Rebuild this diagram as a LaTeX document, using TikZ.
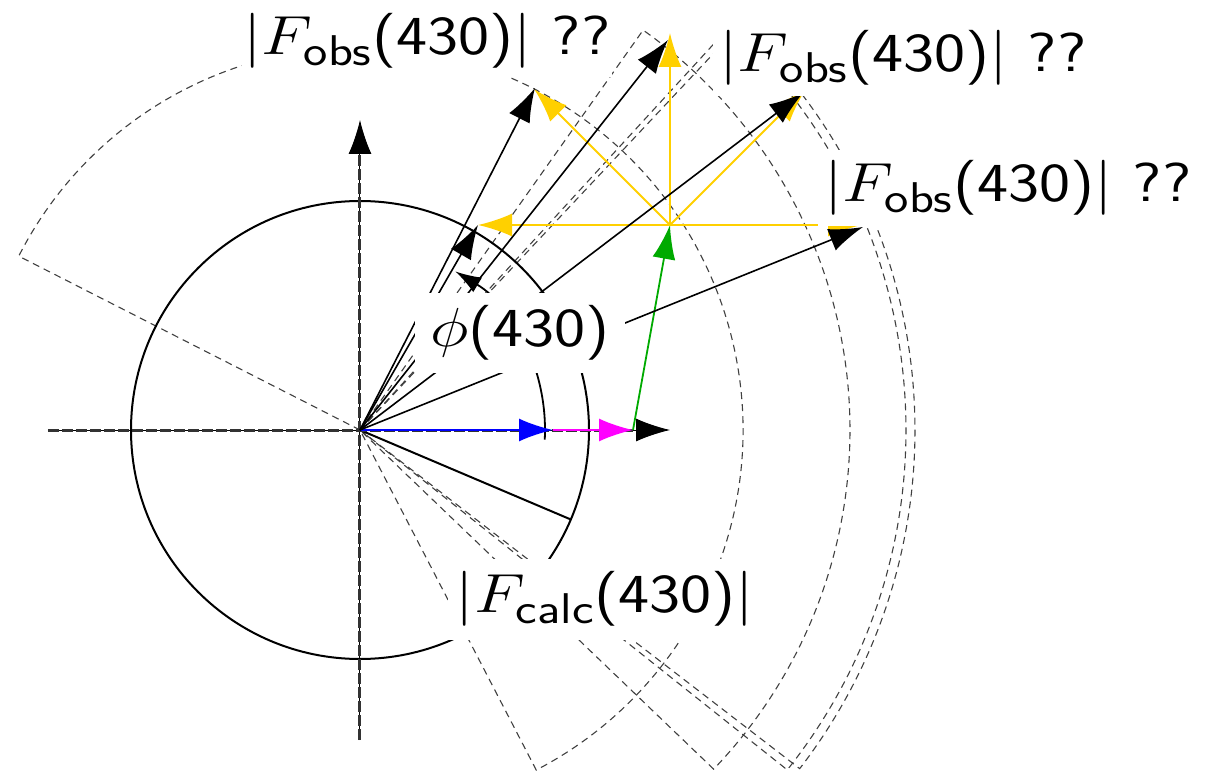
\RequirePackage{fix-cm}
\documentclass[tikz,border=0pt]{standalone}
\usepackage{graphicx}
\usetikzlibrary{arrows.meta,calc}
\definecolor{ylw}{RGB}{255,208,0}
\definecolor{grn}{RGB}{0,170,0}
\definecolor{mag}{RGB}{255,0,255}
\definecolor{blu}{RGB}{0,0,255}
\newcommand{\wide}[1]{\scalebox{1.2}[1]{#1}}
\newcommand{\sub}[1]{\mbox{\fontsize{43}{43}\selectfont\textsf{#1}}}
\begin{document}
\begin{tikzpicture}[x=1pt,y=1pt,
  dsec/.style={draw=black!75, line width=1.1pt, dash pattern=on 7pt off 5pt},
  arr/.style={-{Latex[length=34pt,width=23pt]}},
  axisline/.style={line width=1pt},
  axisdash/.style={line width=3pt, black!80, dash pattern=on 11pt off 3pt},
  vec/.style={line width=1.6pt, arr},
  lab/.style={fill=white, inner sep=0pt, font=\fontsize{55}{60}\selectfont}]
\useasboundingbox (-360,-341) rectangle (850,430);
\coordinate (O) at (0,0);
% dashed sectors
\draw[dsec] (O) -- (153:383) arc[start angle=153, end angle=-62.6, radius=383] -- cycle;
\draw[dsec] (O) -- (54.7:490) arc[start angle=54.7, end angle=-43.8, radius=490] -- cycle;
\draw[dsec] (O) -- (47.5:546) arc[start angle=47.5, end angle=-38.5, radius=546] -- cycle;
\draw[dsec] (O) -- (46.8:555) arc[start angle=46.8, end angle=-37.6, radius=555] -- cycle;
% circle and radius
\draw[line width=2pt] (O) circle[radius=229];
\coordinate (R) at (-23:229);
\draw[line width=2pt] (O) -- (R);
% phase arc
\coordinate (P0) at (-3:185);
\draw[line width=1.8pt, -{Latex[length=26pt,width=17pt]}] (P0) arc[start angle=-3, end angle=59, radius=185];
% axes
\coordinate (XL) at (-312,0);
\coordinate (XR) at (310,0);
\coordinate (YB) at (0,-310);
\coordinate (YT) at (0,310);
\draw[axisline, arr] (XL) -- (XR);
\draw[axisdash] (XL) -- (276,0);
\draw[axisline, arr] (YB) -- (YT);
\draw[axisdash] (YB) -- (0,276);
% calc vectors
\coordinate (A) at (193,0);
\coordinate (B) at (273,0);
\coordinate (H) at (310,205);
\draw[blu, line width=2pt, arr] (O) -- (A);
\draw[mag, line width=2pt, arr] (A) -- (B);
\draw[grn, line width=1.8pt, arr] (B) -- (H);
% yellow possibilities
\foreach \a/\n in {0/y0,45/y1,90/y2,135/y3,180/y4}{
  \coordinate (\n) at ($(H)+(\a:192)$);
}
\foreach \n in {y0,y1,y2,y3,y4}{
  \draw[ylw, line width=1.9pt, arr] (H) -- (\n);
}
% black obs vectors
\coordinate (b1) at (118,205);
\coordinate (b2) at (175,342);
\coordinate (b3) at (308,390);
\coordinate (b4) at (443,337);
\coordinate (b5) at (503,203);
\foreach \n in {b1,b2,b3,b4,b5}{
  \draw[vec] (O) -- (\n);
}
% labels
\node[lab, minimum width=370pt, minimum height=72pt] (l1) at (67,389) {\wide{$|F_{\sub{obs}}$\textsf{(430)}$|$ \textsf{??}}};
\node[lab, minimum width=380pt, minimum height=77pt] (l2) at (543,372) {\wide{$|F_{\sub{obs}}$\textsf{(430)}$|$ \textsf{??}}};
\node[lab, minimum width=381pt, minimum height=76pt] (l3) at (648,242) {\wide{$|F_{\sub{obs}}$\textsf{(430)}$|$ \textsf{??}}};
\node[lab, minimum width=210pt, minimum height=80pt] (lphi) at (160,97) {\wide{$\phi$\textsf{(430)}}};
\node[lab, minimum width=315pt, minimum height=81pt] (lcalc) at (245,-169) {\wide{$|F_{\sub{calc}}$\textsf{(430)}$|$}};
\end{tikzpicture}
\end{document}
